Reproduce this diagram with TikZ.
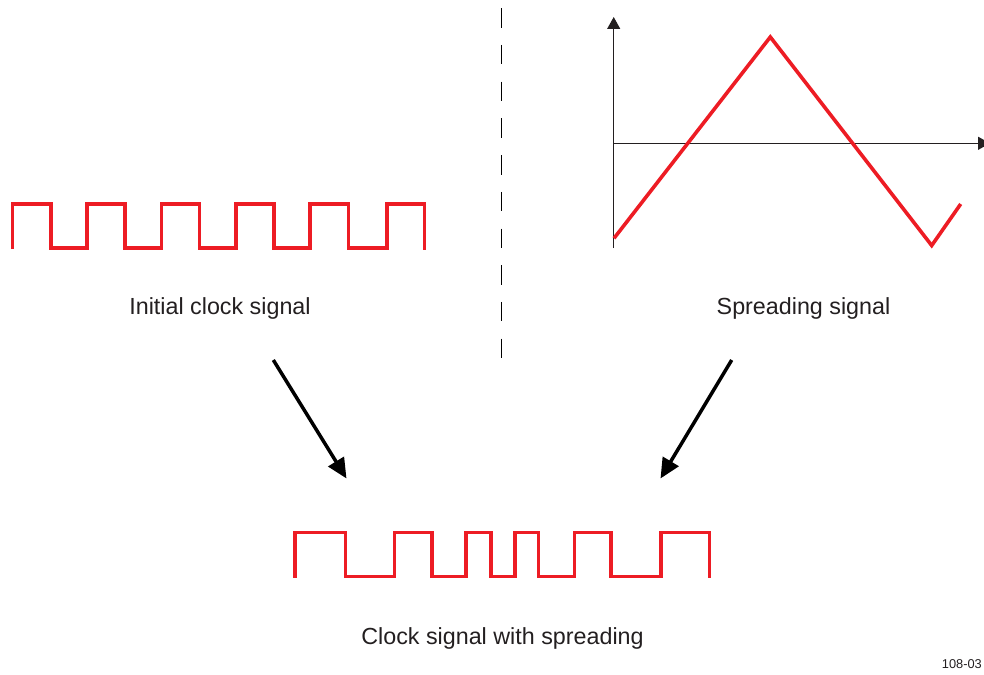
\documentclass[tikz,border=0pt]{standalone}
\usepackage{fontspec}
\setmainfont{Liberation Sans}
\usetikzlibrary{arrows.meta}
\definecolor{sigred}{HTML}{ED1C24}
\definecolor{txtgrey}{HTML}{231F20}
\tikzset{
  wave/.style={draw=sigred, line width=3.6pt, line join=miter},
  axis/.style={draw=txtgrey, line width=1.3pt, -{Triangle[length=12pt,width=13pt]}},
  flow/.style={draw=black, line width=3.5pt, -{Triangle[length=20pt,width=18pt]}},
  label/.style={text=txtgrey, font=\fontsize{23.3pt}{28pt}\selectfont, anchor=base, inner sep=0pt},
  tag/.style={text=txtgrey, font=\fontsize{12.8pt}{15pt}\selectfont, anchor=base east, inner sep=0pt},
  divider/.style={draw=black, line width=1.3pt, dash pattern=on 19.5pt off 17.2pt}
}
\begin{document}
\begin{tikzpicture}[x=1pt,y=-1pt]
\useasboundingbox (0,0) rectangle (984,674);
% initial clock signal
\draw[wave] (12.3,249) -- (12.3,204)
  -- (50.7,204) -- (50.7,248) -- (86.7,248) -- (86.7,204)
  -- (125,204) -- (125,248) -- (161.3,248) -- (161.3,204)
  -- (199.3,204) -- (199.3,248) -- (235.7,248) -- (235.7,204)
  -- (274,204) -- (274,248) -- (310,248) -- (310,204)
  -- (348.3,204) -- (348.3,248) -- (386.7,248) -- (386.7,204)
  -- (424.5,204) -- (424.5,250);
% divider
\coordinate (dtop) at (501.5,8.3);
\coordinate (dbot) at (501.5,360);
\draw[divider] (dtop) -- (dbot);
% spreading signal axes
\coordinate (origin) at (613.7,248);
\coordinate (ytip) at (613.7,17);
\coordinate (xstart) at (613.7,143.3);
\coordinate (xtip) at (990,143.3);
\draw[axis] (origin) -- (ytip);
\draw[axis] (xstart) -- (xtip);
\draw[wave] (614,238.3) -- (770.3,37) -- (931.7,245.5) -- (960.7,204);
% labels
\node[label] (initial) at (220,314.3) {Initial clock signal};
\node[label] (spread) at (803.5,314.3) {Spreading signal};
\node[label] (result) at (502.5,644.3) {Clock signal with spreading};
\node[tag] (code) at (982,668.7) {108-03};
% arrows
\coordinate (la) at (273.3,360);
\coordinate (lb) at (346.5,478.5);
\coordinate (ra) at (731.7,360);
\coordinate (rb) at (660.5,478.5);
\draw[flow] (la) -- (lb);
\draw[flow] (ra) -- (rb);
% clock with spreading
\draw[wave] (295,577.5) -- (295,532.3)
  -- (345.3,532.3) -- (345.3,576.5) -- (394.3,576.5) -- (394.3,532.3)
  -- (431.7,532.3) -- (431.7,576.5) -- (465.7,576.5) -- (465.7,532.3)
  -- (490.7,532.3) -- (490.7,576.5) -- (515,576.5) -- (515,532.3)
  -- (538.3,532.3) -- (538.3,576.5) -- (574.3,576.5) -- (574.3,532.3)
  -- (611,532.3) -- (611,576.5) -- (661,576.5) -- (661,532.3)
  -- (709.3,532.3) -- (709.3,577.5);
\end{tikzpicture}
\end{document}
